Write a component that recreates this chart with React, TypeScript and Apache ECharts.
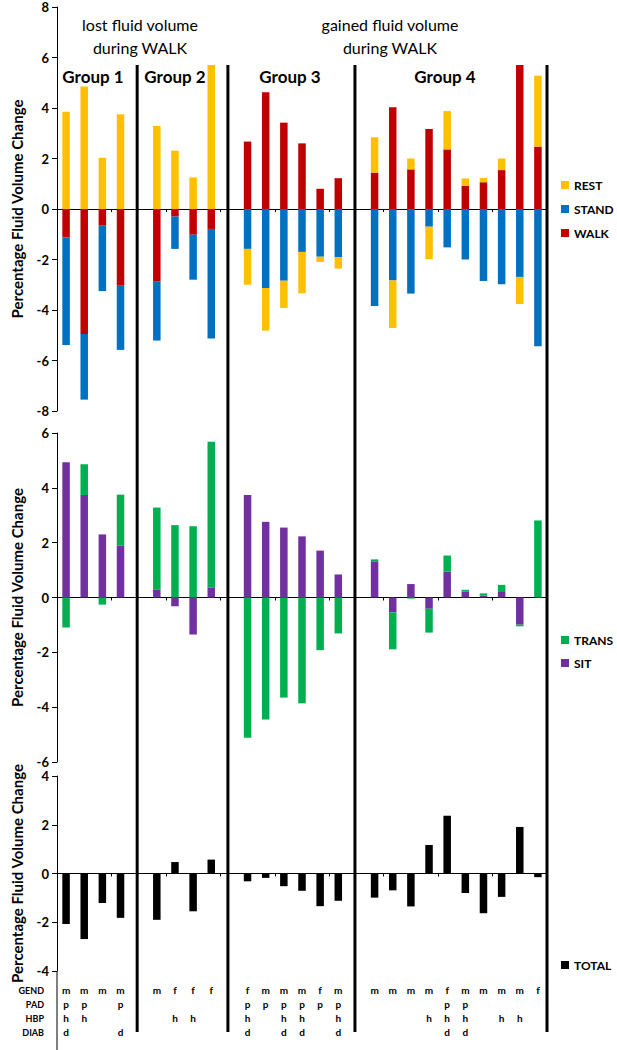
import React, { useEffect, useRef } from "react";
import * as echarts from "echarts";

const groupSizes = [4, 4, 6, 10];
const groupNames = ["Group 1", "Group 2", "Group 3", "Group 4"];

// Top panel
const rest = [3.85, 4.85, 2.03, 3.75, 3.29, 2.31, 1.25, 5.7, -1.42, -1.69, -1.08, -1.64, -0.21, -0.46, 1.4, -1.88, 0.43, -1.29, 1.52, 0.29, 0.17, 0.46, -1.07, 2.81];
const stand = [-4.26, -2.6, -2.59, -2.54, -2.33, -1.28, -1.78, -4.34, -1.58, -3.13, -2.84, -1.7, -1.89, -1.9, -3.84, -2.83, -3.35, -0.7, -1.52, -2.0, -2.85, -2.98, -2.69, -5.44];
const walk = [-1.13, -4.95, -0.66, -3.04, -2.88, -0.3, -1.02, -0.79, 2.67, 4.62, 3.42, 2.6, 0.8, 1.22, 1.44, 4.03, 1.57, 3.17, 2.36, 0.92, 1.06, 1.54, 5.7, 2.47];
// Middle panel
const sit = [4.93, 3.74, 2.3, 1.9, 0.28, -0.32, -1.35, 0.36, 3.74, 2.76, 2.55, 2.23, 1.71, 0.84, 1.32, -0.54, 0.49, -0.41, 0.94, 0.22, 0.07, 0.2, -0.99, 0];
const trans = [-1.09, 1.12, -0.26, 1.85, 3.0, 2.64, 2.6, 5.32, -5.12, -4.45, -3.65, -3.86, -1.92, -1.31, 0.07, -1.35, -0.04, -0.87, 0.59, 0.06, 0.08, 0.26, -0.06, 2.81];
// Bottom panel
const total = [-2.07, -2.69, -1.21, -1.82, -1.9, 0.47, -1.55, 0.57, -0.32, -0.18, -0.52, -0.71, -1.34, -1.12, -0.99, -0.69, -1.35, 1.17, 2.37, -0.8, -1.63, -0.96, 1.91, -0.15];

const gend = ["m", "m", "m", "m", "m", "f", "f", "f", "f", "m", "m", "m", "f", "m", "m", "m", "m", "m", "f", "m", "m", "m", "m", "f"];
const pad = ["p", "p", "", "p", "", "", "", "", "p", "p", "p", "p", "p", "p", "", "", "", "", "p", "p", "", "", "", ""];
const hbp = ["h", "h", "", "", "", "h", "h", "", "h", "", "h", "h", "", "h", "", "", "", "h", "h", "h", "", "h", "h", ""];
const diab = ["d", "", "", "d", "", "", "", "", "d", "", "d", "d", "", "d", "", "", "", "", "d", "d", "", "", "", ""];
const rowLabels = ["GEND", "PAD", "HBP", "DIAB"];

const topTicks = { min: -8, max: 8, interval: 2 };
const midTicks = { min: -6, max: 6, interval: 2 };
const botTicks = { min: -4, max: 4, interval: 2 };

// build slots with a gap slot between groups
const slots: { subj: number; gap: boolean }[] = [];
const gapSlots: number[] = [];
{
  let s = 0;
  groupSizes.forEach((n, g) => {
    if (g > 0) {
      gapSlots.push(slots.length);
      slots.push({ subj: -1, gap: true });
    }
    for (let i = 0; i < n; i++) slots.push({ subj: s++, gap: false });
  });
}
const cats = slots.map((sl, i) => (sl.gap ? "gap" + i : "S" + (sl.subj + 1)));
const expand = (arr: number[]) => slots.map((sl) => (sl.gap ? null : arr[sl.subj]));
const labelText = slots.map((sl) =>
  sl.gap ? " " : [gend, pad, hbp, diab].map((a) => a[sl.subj] || " ").join("\n")
);

const FONT = "Lato";
const COLORS = { REST: "#FFC000", STAND: "#0070C0", WALK: "#C00000", TRANS: "#00B050", SIT: "#7030A0", TOTAL: "#000000" };

export default function App() {
  const ref = useRef<HTMLDivElement>(null);
  useEffect(() => {
    document.body.style.margin = "0";
    if (!ref.current) return;
    const chart = echarts.init(ref.current, undefined, { renderer: "svg" });
    const L = 57;
    const W = 490;
    const grids = [
      { left: L, width: W, top: 7, height: 404 },
      { left: L, width: W, top: 433, height: 329 },
      { left: L, width: W, top: 776, height: 195 },
    ];
    const yName = "Percentage Fluid Volume Change";
    const mkX = (gi: number) => ({
      type: "category",
      gridIndex: gi,
      data: cats,
      axisLine: { onZero: true, lineStyle: { color: "#000", width: 1 } },
      axisTick: { show: true, length: 3, lineStyle: { color: "#000" } },
      axisLabel: { show: false },
    });
    const mkY = (gi: number, t: any) => ({
      type: "value",
      gridIndex: gi,
      ...t,
      name: yName,
      nameLocation: "middle",
      nameGap: 33,
      nameRotate: 90,
      nameTextStyle: { fontFamily: FONT, fontWeight: "bold", fontSize: 15, color: "#000" },
      axisLine: { show: true, lineStyle: { color: "#000", width: 1 } },
      axisTick: { show: true, length: 5, lineStyle: { color: "#000" } },
      axisLabel: { fontFamily: FONT, fontWeight: "bold", fontSize: 13, color: "#000", margin: 8 },
      splitLine: { show: false },
    });
    const bar = (name: string, data: number[], xi: number, yi: number, stack?: string) => ({
      name,
      type: "bar",
      xAxisIndex: xi,
      yAxisIndex: yi,
      stack,
      barWidth: 7.5,
      data: expand(data),
      itemStyle: { color: (COLORS as any)[name] },
    });
    const legendBase = {
      orient: "vertical",
      left: 561,
      icon: "rect",
      itemWidth: 8,
      itemHeight: 8,
      padding: 0,
      textStyle: { fontFamily: FONT, fontWeight: "bold", fontSize: 12, color: "#000", lineHeight: 14 },
    };
    const option: any = {
      animation: false,
      textStyle: { fontFamily: FONT },
      grid: grids,
      xAxis: [
        mkX(0),
        mkX(1),
        mkX(2),
        {
          type: "category",
          gridIndex: 2,
          data: labelText,
          position: "bottom",
          axisLine: { show: false, onZero: false },
          axisTick: { show: false },
          axisLabel: {
            interval: 0,
            margin: 12,
            verticalAlign: "top",
            fontFamily: FONT,
            fontWeight: "bold",
            fontSize: 10,
            lineHeight: 14,
            color: "#000",
          },
        },
      ],
      yAxis: [mkY(0, topTicks), mkY(1, midTicks), mkY(2, botTicks)],
      legend: [
        { ...legendBase, top: 178, itemGap: 10, data: ["REST", "STAND", "WALK"] },
        { ...legendBase, top: 633, itemGap: 9, data: ["TRANS", "SIT"] },
        { ...legendBase, top: 958, data: ["TOTAL"] },
      ],
      series: [
        bar("WALK", walk, 0, 0, "top"),
        bar("STAND", stand, 0, 0, "top"),
        bar("REST", rest, 0, 0, "top"),
        bar("SIT", sit, 1, 1, "mid"),
        bar("TRANS", trans, 1, 1, "mid"),
        bar("TOTAL", total, 2, 2),
      ],
    };
    chart.setOption(option);

    const sepTop = 65;
    const sepBot = 1032;
    const graphics: any[] = [];
    gapSlots.forEach((gs) => {
      const x = (chart.convertToPixel({ xAxisIndex: 0 }, gs) as number) - 1.5;
      graphics.push({ type: "line", shape: { x1: x, y1: sepTop, x2: x, y2: sepBot }, style: { stroke: "#000", lineWidth: 3 }, z: 10 });
    });
    const rightX = L + W;
    graphics.push({ type: "line", shape: { x1: rightX, y1: sepTop, x2: rightX, y2: sepBot }, style: { stroke: "#000", lineWidth: 3 }, z: 10 });
    graphics.push({ type: "line", shape: { x1: L, y1: 971, x2: L, y2: 1050 }, style: { stroke: "#000", lineWidth: 1 }, z: 10 });

    const txt = (text: string, x: number, y: number, size: number, weight: string, align = "center") => ({
      type: "text",
      x,
      y,
      z: 20,
      style: { text, fontFamily: FONT, fontSize: size, fontWeight: weight, fill: "#000", align, verticalAlign: "middle" },
    });
    graphics.push(txt("lost fluid volume", 140, 24, 16, "normal"));
    graphics.push(txt("during WALK", 140, 47, 16, "normal"));
    graphics.push(txt("gained fluid volume", 390, 24, 16, "normal"));
    graphics.push(txt("during WALK", 390, 47, 16, "normal"));
    const groupX = [93, 175, 290, 445];
    groupNames.forEach((g, i) => graphics.push(txt(g, groupX[i], 76, 17, "bold")));
    rowLabels.forEach((r, i) => graphics.push(txt(r, 44, 990 + i * 14, 9, "bold", "right")));
    chart.setOption({ graphic: graphics });

    return () => chart.dispose();
  }, []);
  return <div ref={ref} style={{ width: 617, height: 1050 }} />;
}
